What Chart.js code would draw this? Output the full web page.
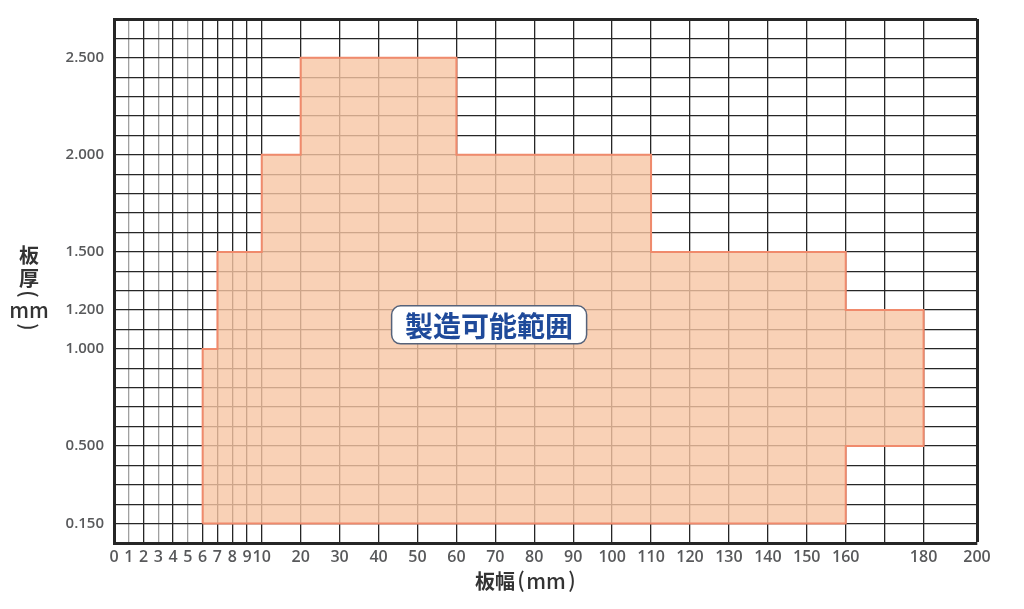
<!DOCTYPE html>
<html lang="ja">
<head>
<meta charset="utf-8">
<title>板幅・板厚 製造可能範囲</title>
<script src="https://cdn.jsdelivr.net/npm/chart.js@4.4.1/dist/chart.umd.min.js"></script>
<style>
  html, body { margin: 0; padding: 0; background: #fff; }
  #wrap { position: relative; width: 1024px; height: 609px; }
</style>
</head>
<body>
<div id="wrap"><canvas id="rangeChart"></canvas></div>
<script>
// outline of the producible range, walked clockwise from the bottom-left corner
const outlineWidth = [6, 6, 7, 7, 10, 10, 20, 20, 60, 60, 110, 110, 160, 160, 180, 180, 160, 160, 6];        // 板幅 (mm)
const outlineThickness = [0.15, 1.0, 1.0, 1.5, 1.5, 2.0, 2.0, 2.5, 2.5, 2.0, 2.0, 1.5, 1.5, 1.2, 1.2, 0.5, 0.5, 0.15, 0.15]; // 板厚 (mm)

// x axis: grid lines and the ones that carry a label
const widthGrid = [0, 1, 2, 3, 4, 5, 6, 7, 8, 9, 10, 20, 30, 40, 50, 60, 70, 80, 90, 100,
                   110, 120, 130, 140, 150, 160, 170, 180, 200];
const widthLabels = [0, 1, 2, 3, 4, 5, 6, 7, 8, 9, 10, 20, 30, 40, 50, 60, 70, 80, 90, 100,
                     110, 120, 130, 140, 150, 160, 180, 200];

// y axis: labelled thickness values
const thicknessLabels = [0.15, 0.5, 1.0, 1.2, 1.5, 2.0, 2.5];

// both axes are broken: each stretch between breaks gets its own length
const widthBreaks = [0, 10, 180, 200];
const widthStretch = [0, 147.7, 809.3, 862.7];
const thicknessBreaks = [0, 0.15, 0.5, 1.0, 1.2, 1.5, 2.0, 2.5, 2.7];
const thicknessRows = [0, 1, 5, 10, 12, 15, 20, 25, 27];

function piecewise(v, from, to) {
    for (let i = 1; i < from.length; i++) {
        if (v <= from[i] || i === from.length - 1) {
            const t = (v - from[i - 1]) / (from[i] - from[i - 1]);
            return to[i - 1] + t * (to[i] - to[i - 1]);
        }
    }
}
const toX = v => piecewise(v, widthBreaks, widthStretch);
const toY = v => piecewise(v, thicknessBreaks, thicknessRows);

const X_MAX = widthStretch[widthStretch.length - 1];
const Y_MAX = thicknessRows[thicknessRows.length - 1];

const jpFont = "'Noto Sans CJK JP', 'Noto Sans', sans-serif";
const numFont = "'Open Sans', 'Noto Sans', sans-serif";

// axis titles and the in-plot label
const annotations = {
    id: 'annotations',
    afterDraw(chart) {
        const ctx = chart.ctx;
        const {x, y} = chart.scales;
        ctx.save();
        ctx.fillStyle = '#333';
        ctx.textAlign = 'center';
        ctx.textBaseline = 'middle';

        // 板厚 (mm), stacked vertically
        const cx = 29;
        ctx.font = 'bold 20px ' + jpFont;
        ctx.fillText('板', cx, 255);
        ctx.fillText('厚', cx, 278);
        ctx.font = '500 21px ' + jpFont;
        ctx.fillText('mm', cx, 310);
        [['(', 294], [')', 327]].forEach(([ch, cy]) => {
            ctx.save();
            ctx.translate(cx, cy);
            ctx.rotate(Math.PI / 2);
            ctx.fillText(ch, 0, 0);
            ctx.restore();
        });

        // 板幅 (mm)
        const ty = 581;
        ctx.font = 'bold 20px ' + jpFont;
        ctx.fillText('板幅', 495, ty);
        ctx.font = '500 21px ' + jpFont;
        ctx.fillText('(', 521, ty - 1);
        ctx.fillText('mm', 546, ty);
        ctx.fillText(')', 572, ty - 1);

        // 製造可能範囲 box
        const px = x.getPixelForValue(toX(68.4));
        const py = y.getPixelForValue(toY(1.124));
        const w = 195, h = 38, r = 9;
        ctx.beginPath();
        ctx.roundRect(px - w / 2, py - h / 2, w, h, r);
        ctx.fillStyle = '#fff';
        ctx.fill();
        ctx.lineWidth = 1.5;
        ctx.strokeStyle = '#55627a';
        ctx.stroke();
        ctx.fillStyle = '#1f4a9a';
        ctx.font = 'bold 28px ' + jpFont;
        ctx.fillText('製造可能範囲', px, py + 1);
        ctx.restore();
    }
};

const ctx = document.getElementById('rangeChart').getContext('2d');
new Chart(ctx, {
    type: 'line',
    data: {
        datasets: [{
            data: outlineWidth.map((w, i) => ({x: toX(w), y: toY(outlineThickness[i])})),
            borderColor: '#f08a6c',
            borderWidth: 2,
            backgroundColor: 'rgba(247, 198, 164, 0.8)',
            fill: 'shape',
            pointRadius: 0,
            tension: 0
        }]
    },
    options: {
        responsive: true,
        maintainAspectRatio: false,
        animation: false,
        layout: {
            padding: {left: 0, top: 18, right: 47, bottom: 0}
        },
        plugins: {
            legend: {display: false},
            tooltip: {enabled: false}
        },
        scales: {
            x: {
                type: 'linear',
                min: 0,
                max: X_MAX,
                afterBuildTicks: axis => {
                    axis.ticks = widthGrid.map(v => ({value: toX(v)}));
                },
                afterFit: axis => { axis.height = 66; },
                ticks: {
                    autoSkip: false,
                    maxRotation: 0,
                    padding: 5,
                    color: '#58595b',
                    font: {family: numFont, size: 16, weight: '600'},
                    callback: (value, index) => {
                        const w = widthGrid[index];
                        return widthLabels.includes(w) ? String(w) : '';
                    }
                },
                grid: {
                    drawTicks: false,
                    color: c => [1, 3, 5].includes(widthGrid[c.index]) ? '#a0a0a0' : '#262626',
                    lineWidth: c => c.index === widthGrid.length - 1 ? 3 : 1.3
                },
                border: {display: true, color: '#262626', width: 3}
            },
            y: {
                type: 'linear',
                min: 0,
                max: Y_MAX,
                afterBuildTicks: axis => {
                    const rows = [];
                    for (let r = 0; r <= Y_MAX; r++) rows.push({value: r});
                    axis.ticks = rows;
                },
                afterFit: axis => { axis.width = 114; },
                ticks: {
                    autoSkip: false,
                    padding: 10,
                    color: '#58595b',
                    font: {family: numFont, size: 15, weight: '600'},
                    callback: value => {
                        const hit = thicknessLabels.find(t => Math.abs(toY(t) - value) < 1e-6);
                        return hit === undefined ? '' : hit.toFixed(3);
                    }
                },
                grid: {
                    drawTicks: false,
                    color: '#262626',
                    lineWidth: c => c.index === Y_MAX ? 3 : 1.3
                },
                border: {display: true, color: '#262626', width: 3}
            }
        }
    },
    plugins: [annotations]
});
</script>
</body>
</html>
